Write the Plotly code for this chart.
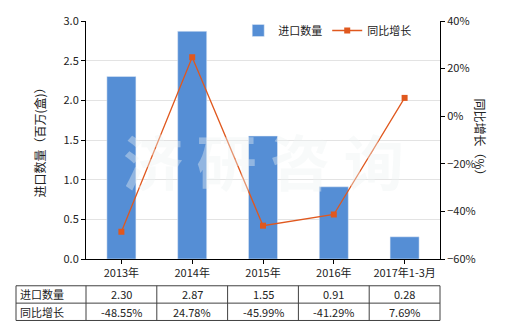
import plotly.graph_objects as go

categories = ["2013年", "2014年", "2015年", "2016年", "2017年1-3月"]
import_qty = [2.30, 2.87, 1.55, 0.91, 0.28]
growth = [-48.55, 24.78, -45.99, -41.29, 7.69]
qty_labels = ["2.30", "2.87", "1.55", "0.91", "0.28"]
growth_labels = ["-48.55%", "24.78%", "-45.99%", "-41.29%", "7.69%"]
row_names = ["进口数量", "同比增长"]

BAR_COLOR = "#558ED5"
LINE_COLOR = "#E0581E"
FONT = "Noto Sans CJK SC"

fig = go.Figure()
fig.add_trace(go.Bar(x=categories, y=import_qty, name="进口数量",
                     marker_color=BAR_COLOR, width=0.41, yaxis="y"))
fig.add_trace(go.Scatter(x=categories, y=growth, name="同比增长", yaxis="y2",
                         mode="lines+markers",
                         line=dict(color=LINE_COLOR, width=1.3),
                         marker=dict(symbol="square", size=6, color=LINE_COLOR)))

L, R, T, B = 86, 80, 19, 71
W, H = 520, 330
pw = W - L - R
ph = H - T - B

def px_to_paper_y(py):
    return (H - B - py) / ph

def px_to_paper_x(px):
    return (px - L) / pw

shapes = []
annotations = []

# watermark
annotations.append(dict(text="<b>济 研 咨 询</b>", x=0.5, y=0.42, xref="paper", yref="paper",
                        showarrow=False, font=dict(size=60, color="rgba(238,243,243,0.4)", family=FONT)))

# table
n = len(categories)
x_left = px_to_paper_x(16)
row_y = [px_to_paper_y(286), px_to_paper_y(303.5), px_to_paper_y(321)]
line_style = dict(color="#404040", width=1)
for yv in row_y:
    shapes.append(dict(type="line", xref="paper", yref="paper", x0=x_left, x1=1, y0=yv, y1=yv, line=line_style))
xs = [x_left] + [i / n for i in range(n + 1)]
for xv in xs:
    shapes.append(dict(type="line", xref="paper", yref="paper", x0=xv, x1=xv, y0=row_y[0], y1=row_y[2], line=line_style))

rows = [qty_labels, growth_labels]
for r in range(2):
    yc = (row_y[r] + row_y[r + 1]) / 2
    annotations.append(dict(text=row_names[r], x=x_left + 0.005, y=yc, xref="paper", yref="paper",
                            xanchor="left", yanchor="middle", showarrow=False,
                            font=dict(size=11, color="#222", family=FONT)))
    for i in range(n):
        annotations.append(dict(text=rows[r][i], x=(i + 0.5) / n, y=yc, xref="paper", yref="paper",
                                xanchor="center", yanchor="middle", showarrow=False,
                                font=dict(size=11, color="#222", family=FONT)))

# axis titles
annotations.append(dict(text="进口数量（百万(盒)）", x=px_to_paper_x(28), y=0.5, xref="paper", yref="paper",
                        textangle=-90, showarrow=False, font=dict(size=12, color="#222", family=FONT)))
annotations.append(dict(text="同比增长（%）", x=px_to_paper_x(491), y=0.5, xref="paper", yref="paper",
                        textangle=90, showarrow=False, font=dict(size=12, color="#222", family=FONT)))

fig.update_layout(
    width=W, height=H,
    margin=dict(l=L, r=R, t=T, b=B),
    paper_bgcolor="white", plot_bgcolor="white",
    font=dict(family=FONT, size=11, color="#222"),
    bargap=0.59,
    xaxis=dict(showline=True, linecolor="black", linewidth=1, ticks="outside", ticklen=4,
               tickcolor="black", tickfont=dict(size=11), range=[-0.5, 4.5]),
    yaxis=dict(range=[0, 3.0], dtick=0.5, tickformat=".1f", showline=True, linecolor="black",
               linewidth=1, ticks="outside", ticklen=4, tickcolor="black",
               gridcolor="#E3E3E3", zeroline=False),
    yaxis2=dict(range=[-60, 40], dtick=20, ticksuffix="%", overlaying="y", side="right",
                showline=True, linecolor="black", linewidth=1, ticks="outside", ticklen=4,
                tickcolor="black", showgrid=False, zeroline=False),
    legend=dict(orientation="h", x=0.43, y=0.96, xanchor="left", yanchor="middle",
                bgcolor="rgba(0,0,0,0)", font=dict(size=11), itemwidth=30),
    shapes=shapes,
    annotations=annotations,
)

fig.write_html("out.html")
